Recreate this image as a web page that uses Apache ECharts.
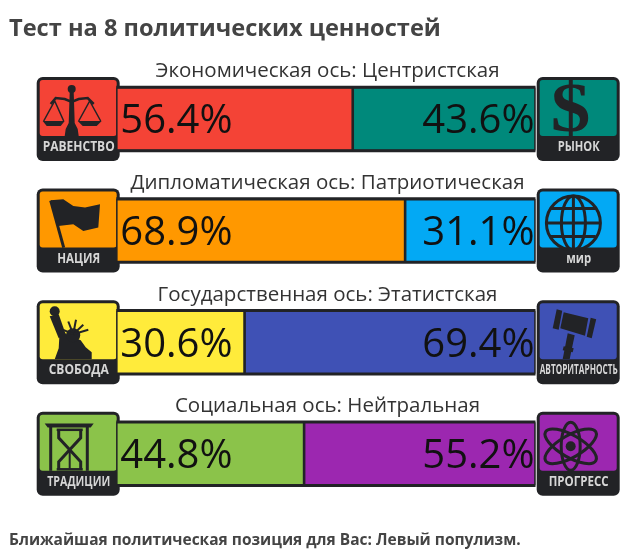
<!DOCTYPE html>
<html lang="ru">
<head>
    <meta charset="UTF-8">
    <title>Тест на 8 политических ценностей</title>
    <script src="https://cdn.jsdelivr.net/npm/echarts/dist/echarts.min.js"></script>
    <style>
        html, body { margin: 0; padding: 0; background: #fff; }
        #chart { width: 640px; height: 559px; }
    </style>
</head>
<body>
    <div id="chart"></div>
    <script>
        var axes = [
            'Экономическая ось: Центристская',
            'Дипломатическая ось: Патриотическая',
            'Государственная ось: Этатистская',
            'Социальная ось: Нейтральная'
        ];
        var leftNames = ['РАВЕНСТВО', 'НАЦИЯ', 'СВОБОДА', 'ТРАДИЦИИ'];
        var rightNames = ['РЫНОК', 'мир', 'АВТОРИТАРНОСТЬ', 'ПРОГРЕСС'];
        var leftValues = [56.4, 68.9, 30.6, 44.8];
        var rightValues = [43.6, 31.1, 69.4, 55.2];
        var leftColors = ['#f44336', '#ff9800', '#ffeb3b', '#8bc34a'];
        var rightColors = ['#00897b', '#03a9f4', '#3f51b5', '#9c27b0'];
        var fullBar = [100, 100, 100, 100];

        // width of the squeezed caption inside each badge
        var leftNameWidths = [72, 43, 60, 63];
        var rightNameWidths = [42, 25, 78, 60];

        var DARK = '#222326';
        var FONT = '"Open Sans", sans-serif';
        var rowStep = 111.6;

        function line(points, w) {
            return { type: 'polyline', shape: { points: points }, style: { stroke: DARK, lineWidth: w || 3, fill: null } };
        }
        function poly(points) {
            return { type: 'polygon', shape: { points: points }, style: { fill: DARK } };
        }
        function dot(x, y, r) {
            return { type: 'circle', shape: { cx: x, cy: y, r: r }, style: { fill: DARK } };
        }
        function ring(x, y, rx, ry, rot, w) {
            return {
                type: 'ellipse', x: x, y: y, rotation: rot || 0,
                shape: { cx: 0, cy: 0, rx: rx, ry: ry },
                style: { stroke: DARK, lineWidth: w || 3, fill: null }
            };
        }

        // glyphs are in box coordinates, box is 83x84
        var glyphs = {
            scales: [
                dot(35, 12, 4), poly([[33, 15], [37, 15], [38, 46], [41, 52], [42, 59], [28, 59], [29, 52], [32, 46]]),
                line([[14, 27], [19, 21], [28, 22], [35, 25], [42, 22], [51, 21], [57, 27]], 2.5),
                line([[7, 44], [18, 24], [27, 44]], 1.5), line([[42, 44], [53, 24], [64, 44]], 1.5),
                poly([[6, 44], [28, 44], [24, 49], [10, 49]]), poly([[41, 44], [65, 44], [60, 49], [46, 49]])
            ],
            dollar: [{
                type: 'text', x: 34, y: 36, scaleX: 1.15,
                style: { text: '$', fill: DARK, font: 'bold 69px "Liberation Serif", serif', textAlign: 'center', textVerticalAlign: 'middle' }
            }],
            flag: [
                line([[14, 12], [27, 59]], 3),
                poly([[14, 11.7], [26.6, 10.7], [36.6, 17.4], [48.3, 19], [63.3, 15.7], [61.6, 39], [46.6, 42.4], [36.6, 35.7], [21.6, 37.4]])
            ],
            globe: [
                ring(36.7, 34.4, 27, 27), ring(36.7, 34.4, 12, 27),
                line([[36.7, 7], [36.7, 61]]), line([[9, 34.4], [64, 34.4]]),
                line([[14, 20], [59, 20]]), line([[14, 48], [59, 48]])
            ],
            statue: [
                dot(18, 11, 5), poly([[13, 16], [22, 14], [29, 34], [22, 38]]),
                poly([[23, 30], [30, 34], [44, 40], [49, 47], [55, 52], [55, 59], [18, 59], [22, 48]]),
                dot(36.5, 35, 7),
                line([[36.5, 34], [31.6, 21.3]], 2), line([[36.5, 34], [39.3, 19.6]], 2), line([[36.5, 34], [46.6, 24.6]], 2),
                line([[36.5, 34], [51.6, 29.6]], 2), line([[36.5, 34], [26.6, 29.6]], 2)
            ],
            gavel: [
                poly([[20, 9], [16, 28], [22, 29.5], [25.5, 10.5]]),
                poly([[27, 12], [51.6, 18], [48.3, 35.6], [23.6, 28]]),
                poly([[54, 17.5], [59.5, 19], [55, 38], [50, 36.5]]),
                poly([[31, 33], [38, 35], [33, 58.7], [26, 58.7]]),
                poly([[27, 46], [37, 48], [36, 52], [26, 50]])
            ],
            hourglass: [
                poly([[8, 11.7], [57, 11.7], [54, 15.7], [11, 15.7]]),
                line([[14, 15], [14, 59]]), line([[50.6, 15], [50.6, 59]]),
                line([[22, 18], [22, 26], [33, 38], [22, 50], [22, 58]], 3),
                line([[44, 18], [44, 26], [33, 38], [44, 50], [44, 58]], 3),
                line([[20, 18], [46, 18]], 2.5), line([[33, 40], [33, 57]], 2),
                line([[20, 57.5], [46, 57.5]], 2.5)
            ],
            atom: [
                ring(34, 34.5, 24, 9.5, Math.PI / 2), ring(34, 34.5, 29, 11, Math.PI / 6), ring(34, 34.5, 29, 11, -Math.PI / 6),
                dot(34, 34.5, 5)
            ]
        };
        var leftGlyphs = ['scales', 'flag', 'statue', 'hourglass'];
        var rightGlyphs = ['dollar', 'globe', 'gavel', 'atom'];

        var BADGE_FONT = 'bold 14px "Open Sans", sans-serif';
        var measure = document.createElement('canvas').getContext('2d');
        measure.font = BADGE_FONT;

        function badge(x, y, color, name, nameWidth, glyph) {
            return {
                type: 'group', x: x, y: y, z: 100,
                children: [
                    { type: 'rect', shape: { x: 0, y: 0, width: 83, height: 84, r: 6 }, style: { fill: DARK } },
                    { type: 'rect', shape: { x: 3, y: 3, width: 77, height: 56, r: 3 }, style: { fill: color } },
                    {
                        type: 'text', x: 42, y: 70,
                        scaleX: nameWidth / measure.measureText(name).width,
                        style: { text: name, fill: '#d6d6d6', textAlign: 'center', textVerticalAlign: 'middle', font: BADGE_FONT }
                    }
                ].concat(glyphs[glyph])
            };
        }

        var badges = [];
        for (var i = 0; i < axes.length; i++) {
            var boxTop = 77 + i * rowStep;
            badges.push(badge(36.7, boxTop, leftColors[i], leftNames[i], leftNameWidths[i], leftGlyphs[i]));
            badges.push(badge(536.7, boxTop, rightColors[i], rightNames[i], rightNameWidths[i], rightGlyphs[i]));
        }

        var titles = [
            {
                text: 'Тест на 8 политических ценностей', left: 9, top: 17,
                textStyle: { fontFamily: FONT, fontSize: 23.6, fontWeight: 'bold', color: '#444' }, padding: 0
            },
            {
                text: 'Ближайшая политическая позиция для Вас: Левый популизм.', left: 9, top: 533,
                textStyle: { fontFamily: FONT, fontSize: 15.5, fontWeight: 'bold', color: '#444' }, padding: 0
            }
        ];
        axes.forEach(function (name, i) {
            titles.push({
                text: name, left: 327.5, top: 61 + i * rowStep, textAlign: 'center', padding: 0,
                textStyle: { fontFamily: FONT, fontSize: 20.5, fontWeight: 'normal', color: '#333' }
            });
        });

        function valueLabel(position) {
            return {
                show: true, position: position, distance: position === 'insideLeft' ? 4 : 1, offset: [0, 3],
                fontFamily: FONT, fontSize: 40, color: '#111',
                formatter: function (p) { return p.value.toFixed(1) + '%'; }
            };
        }
        function barSeries(values, colors, position) {
            return {
                type: 'bar', stack: 'axis', barWidth: 63, silent: true,
                label: valueLabel(position),
                data: values.map(function (v, i) {
                    return { value: v, itemStyle: { color: colors[i] } };
                }),
                itemStyle: { borderColor: DARK, borderWidth: 1.3 },
                z: 3
            };
        }

        var plot = { left: 116.3, right: 104.5, top: 63.2, height: 446.4 };

        var chart = echarts.init(document.getElementById('chart'), null, { renderer: 'canvas' });
        chart.setOption({
            animation: false,
            backgroundColor: '#fff',
            title: titles,
            grid: [plot, plot],
            xAxis: [
                { type: 'value', min: 0, max: 100, show: false },
                { type: 'value', min: 0, max: 100, show: false, gridIndex: 1 }
            ],
            yAxis: [
                { type: 'category', data: axes, inverse: true, show: false },
                { type: 'category', data: axes, inverse: true, show: false, gridIndex: 1 }
            ],
            series: [
                // dark backing gives the outer outline of each bar
                {
                    type: 'bar', xAxisIndex: 1, yAxisIndex: 1, barWidth: 66.5, silent: true,
                    data: fullBar, itemStyle: { color: DARK }, z: 1
                },
                barSeries(leftValues, leftColors, 'insideLeft'),
                barSeries(rightValues, rightColors, 'insideRight')
            ],
            graphic: badges
        });
    </script>
</body>
</html>
